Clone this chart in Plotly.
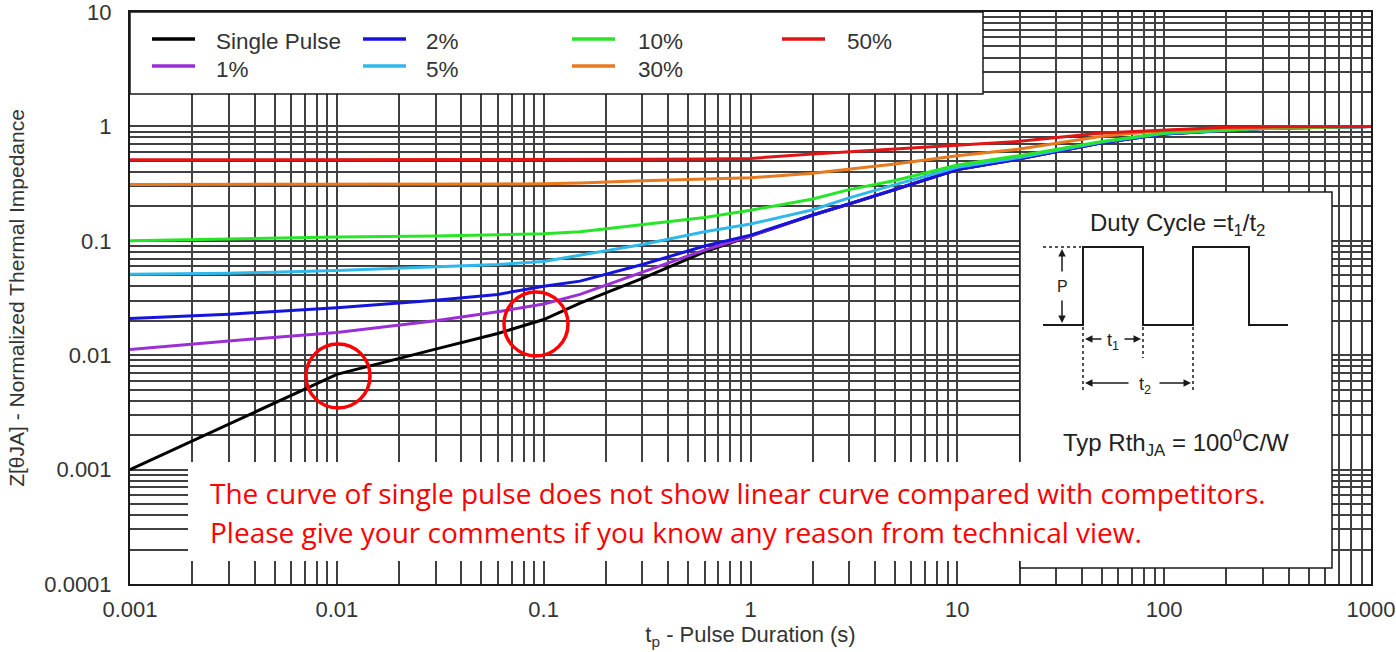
import plotly.graph_objects as go

# ---------------- data ----------------
t_pulse = [0.001, 0.003, 0.01, 0.03, 0.06, 0.1, 0.15, 0.3, 0.6, 1, 2, 3, 5, 10, 20, 50, 100, 200, 300, 1000]
z_single = [0.001, 0.0025, 0.0068, 0.0113, 0.0155, 0.0205, 0.0285, 0.047, 0.080, 0.110, 0.168, 0.21, 0.28, 0.42, 0.52, 0.72, 0.86, 0.93, 0.96, 1.0]
z_d1 = [0.0112, 0.0133, 0.0158, 0.0200, 0.0240, 0.0280, 0.034, 0.053, 0.083, 0.110, 0.168, 0.21, 0.28, 0.42, 0.52, 0.72, 0.86, 0.93, 0.96, 1.0]
z_d2 = [0.0209, 0.0228, 0.0260, 0.0302, 0.0340, 0.0400, 0.0444, 0.062, 0.090, 0.112, 0.168, 0.21, 0.28, 0.42, 0.52, 0.72, 0.86, 0.93, 0.96, 1.0]
z_d5 = [0.051, 0.052, 0.055, 0.059, 0.062, 0.066, 0.075, 0.093, 0.120, 0.140, 0.187, 0.237, 0.31, 0.44, 0.535, 0.73, 0.865, 0.93, 0.96, 1.0]
z_d10 = [0.100, 0.104, 0.108, 0.110, 0.113, 0.115, 0.120, 0.138, 0.160, 0.185, 0.232, 0.28, 0.337, 0.46, 0.555, 0.74, 0.875, 0.93, 0.96, 1.0]
z_d30 = [0.31, 0.31, 0.31, 0.312, 0.314, 0.316, 0.32, 0.335, 0.345, 0.355, 0.39, 0.424, 0.469, 0.553, 0.635, 0.82, 0.92, 0.97, 0.985, 1.0]
z_d50 = [0.51, 0.51, 0.51, 0.51, 0.51, 0.515, 0.515, 0.515, 0.52, 0.525, 0.573, 0.60, 0.634, 0.69, 0.74, 0.874, 0.933, 0.985, 0.99, 1.0]

series_names = ["Single Pulse", "1%", "2%", "5%", "10%", "30%", "50%"]
series_values = [z_single, z_d1, z_d2, z_d5, z_d10, z_d30, z_d50]
series_colors = ["#000000", "#9a2fd6", "#1414dc", "#2fb8ea", "#27e627", "#e8791e", "#e01515"]

x_tick_vals = [0.001, 0.01, 0.1, 1, 10, 100, 1000]
x_tick_text = ["0.001", "0.01", "0.1", "1", "10", "100", "1000"]
y_tick_vals = [0.0001, 0.001, 0.01, 0.1, 1, 10]
y_tick_text = ["0.0001", "0.001", "0.01", "0.1", "1", "10"]

note_lines = [
    "The curve of single pulse does not show linear curve compared with competitors.",
    "Please give your comments if you know any reason from technical view.",
]

# ---------------- layout geometry ----------------
W, H = 1396, 652
L, R, T, B = 130, 1371, 12, 584


def px(xp):
    return (xp - L) / (R - L)


def py(yp):
    return (B - yp) / (B - T)


GRID = "#404040"
TXT = "#333333"
FONT = "Liberation Sans, Arial, sans-serif"

fig = go.Figure()
for name, vals, col in zip(series_names, series_values, series_colors):
    fig.add_trace(go.Scatter(x=t_pulse, y=vals, mode="lines", name=name,
                             line=dict(color=col, width=3), showlegend=False))


def minor_vals(lo, hi):
    out = []
    for e in range(lo, hi):
        for d in range(2, 10):
            out.append(d * 10 ** e)
    return out


fig.update_xaxes(type="log", range=[-3, 3], tickvals=x_tick_vals, ticktext=x_tick_text, automargin=False,
                 showgrid=True, gridcolor=GRID, gridwidth=1.5, ticklabeloverflow="allow",
                 minor=dict(tickvals=minor_vals(-3, 3), showgrid=True, gridcolor=GRID, gridwidth=1.5, ticks=""),
                 showline=True, mirror=True, linecolor="#1a1a1a", linewidth=2,
                 ticks="", ticklabelstandoff=5,
                 tickfont=dict(family=FONT, size=22, color=TXT),
                 title=dict(text="t<sub>p</sub> - Pulse Duration (s)", font=dict(family=FONT, size=22, color=TXT), standoff=4))
fig.update_yaxes(type="log", range=[-4, 1], tickvals=y_tick_vals, ticktext=y_tick_text, automargin=False,
                 showgrid=True, gridcolor=GRID, gridwidth=1.5, ticklabeloverflow="allow",
                 minor=dict(tickvals=minor_vals(-4, 1), showgrid=True, gridcolor=GRID, gridwidth=1.5, ticks=""),
                 showline=True, mirror=True, linecolor="#1a1a1a", linewidth=2,
                 ticks="", ticklabelstandoff=12,
                 tickfont=dict(family=FONT, size=22, color=TXT),
                 title=dict(text="Z[θJA] - Normalized Thermal Impedance", font=dict(family=FONT, size=21, color=TXT), standoff=14))

shapes = []
annotations = []


def note(x, y, text, size, color="#222", family=FONT, xanchor="center"):
    annotations.append(dict(xref="paper", yref="paper", x=px(x), y=py(y), text=text, showarrow=False,
                            xanchor=xanchor, yanchor="middle", font=dict(family=family, size=size, color=color)))


# legend box
shapes.append(dict(type="rect", xref="paper", yref="paper", x0=px(L), x1=px(983), y0=py(94), y1=py(T),
                   fillcolor="white", line=dict(color="#1a1a1a", width=1.5), layer="above"))
leg_pos = [(152, 39, 214, 42), (152, 66, 214, 69), (363, 39, 424, 42), (363, 66, 424, 69),
           (572, 39, 636, 42), (572, 66, 636, 69), (782, 39, 845, 42)]
for (lx, ly, tx, ty), name, col in zip(leg_pos, series_names, series_colors):
    shapes.append(dict(type="line", xref="paper", yref="paper", x0=px(lx), x1=px(lx + 43), y0=py(ly), y1=py(ly),
                       line=dict(color=col, width=3.5), layer="above"))
    note(tx, ty, name, 22.5, color=TXT, xanchor="left")

# inset box with duty-cycle sketch
shapes.append(dict(type="rect", xref="paper", yref="paper", x0=px(1020), x1=px(1332), y0=py(568), y1=py(192),
                   fillcolor="white", line=dict(color="#1a1a1a", width=1.5), layer="above"))
wave = [(1043, 325), (1083, 325), (1083, 247), (1143, 247), (1143, 325), (1193, 325), (1193, 247), (1249, 247), (1249, 325), (1288, 325)]
path = "M " + " L ".join(f"{px(a):.5f},{py(b):.5f}" for a, b in wave)
shapes.append(dict(type="path", xref="paper", yref="paper", path=path, line=dict(color="#1a1a1a", width=2), layer="above"))
for (x0, y0, x1, y1) in [(1043, 247, 1081, 247), (1083, 327, 1083, 390), (1143, 327, 1143, 358), (1193, 327, 1193, 390)]:
    shapes.append(dict(type="line", xref="paper", yref="paper", x0=px(x0), x1=px(x1), y0=py(y0), y1=py(y1),
                       line=dict(color="#1a1a1a", width=1.5, dash="dot"), layer="above"))

# arrows (head position, tail offset in px)
for (hx, hy, ax, ay) in [(1062, 249, 0, 24), (1062, 323, 0, -24), (1085, 339, 18, 0), (1141, 339, -18, 0),
                         (1085, 383, 45, 0), (1191, 383, -33, 0)]:
    annotations.append(dict(xref="paper", yref="paper", x=px(hx), y=py(hy), ax=ax, ay=ay, text="",
                            showarrow=True, arrowhead=2, arrowsize=1, arrowwidth=1.5, arrowcolor="#1a1a1a",
                            standoff=0, startstandoff=0))
note(1062, 286, "P", 16)
note(1113, 341, "t<sub>1</sub>", 18)
note(1145, 385, "t<sub>2</sub>", 18)
note(1177, 224, "Duty Cycle =t<sub>1</sub>/t<sub>2</sub>", 24)
note(1176, 443, "Typ Rth<sub>JA</sub> = 100<sup>0</sup>C/W", 24)

# note box
shapes.append(dict(type="rect", xref="paper", yref="paper", x0=px(188), x1=px(1293), y0=py(561), y1=py(462),
                   fillcolor="white", line=dict(width=0), layer="above"))
for line_text, ly in zip(note_lines, [493, 532]):
    note(208, ly, line_text, 28, color="#ff0000", family="Open Sans, sans-serif", xanchor="left")

# red circles
for cx, cy in [(338, 376), (536, 324)]:
    shapes.append(dict(type="circle", xref="paper", yref="paper", x0=px(cx - 32), x1=px(cx + 32), y0=py(cy + 32), y1=py(cy - 32),
                       line=dict(color="#ff0000", width=3.5), layer="above"))

fig.update_layout(width=W, height=H, margin=dict(l=L, r=W - R, t=T, b=H - B, autoexpand=False),
                  paper_bgcolor="white", plot_bgcolor="white", shapes=shapes, annotations=annotations,
                  showlegend=False)

fig.write_html("out.html", config={"displayModeBar": False}, post_script="document.body.style.margin='0px';")
